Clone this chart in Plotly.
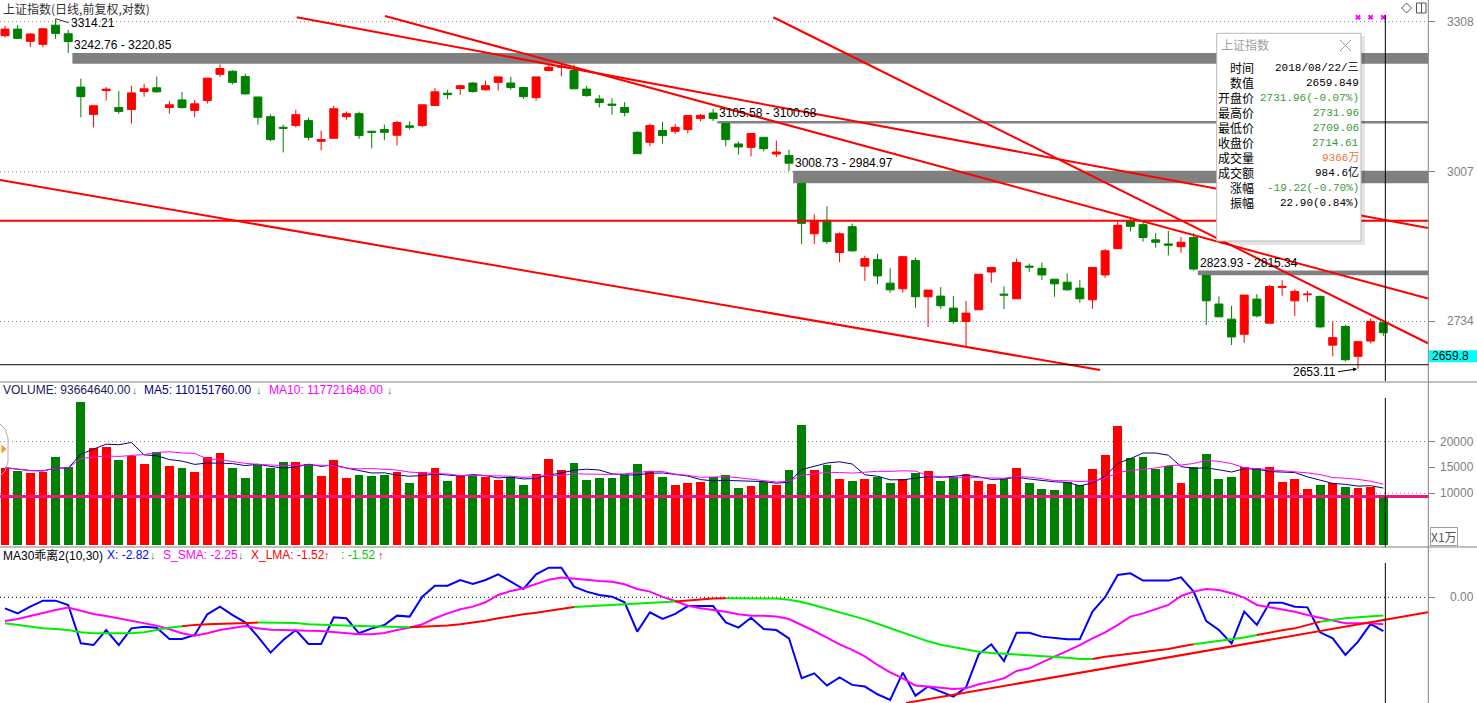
import math
import plotly.graph_objects as go

# ---------------- data ----------------
title_text = "上证指数(日线,前复权,对数)"

open_ = [3278.6, 3292.4, 3266.9, 3260.8, 3300.6, 3282.7, 3173.3, 3118.7, 3166.3, 3132.4,
         3128.5, 3164.3, 3171.9, 3132.4, 3147.5, 3126.6, 3146.2, 3199.2, 3205.4, 3194.5,
         3153.4, 3114.2, 3093.2, 3096.6, 3106.4, 3065.8, 3071.7, 3114.2, 3120.1, 3085.4,
         3088.7, 3077.6, 3096.0, 3096.6, 3136.4, 3161.0, 3170.5, 3181.5, 3167.8, 3182.8,
         3181.5, 3172.5, 3152.0, 3206.8, 3213.6, 3206.8, 3169.2, 3149.5, 3139.1, 3132.4,
         3083.4, 3063.8, 3086.8, 3085.4, 3088.7, 3110.3, 3121.4, 3100.68, 3060.7, 3054.0,
         3073.6, 3041.1, 3038.4, 2984.97, 2890.8, 2915.6, 2856.6, 2903.9, 2831.9, 2843.7,
         2801.4, 2791.4, 2842.0, 2777.3, 2778.5, 2757.4, 2734.0, 2754.4, 2821.3, 2782.0,
         2773.8, 2831.9, 2827.9, 2808.5, 2803.2, 2792.6, 2772.0, 2816.1, 2863.6, 2913.7,
         2907.6, 2879.6, 2872.2, 2867.1, 2883.9, 2815.34, 2764.5, 2738.1, 2711.9, 2773.2,
         2731.0, 2793.9, 2770.2, 2780.8, 2778.0, 2693.2, 2725.3, 2674.1, 2700.2, 2731.96]

high = [3299.2, 3301.2, 3284.2, 3294.5, 3314.21, 3291.0, 3190.4, 3135.8, 3173.3, 3165.7,
        3176.0, 3180.1, 3194.5, 3145.6, 3163.7, 3147.5, 3191.4, 3219.0, 3207.4, 3200.6,
        3153.4, 3118.7, 3098.5, 3127.9, 3112.2, 3086.8, 3135.8, 3124.6, 3124.0, 3086.8,
        3098.5, 3106.4, 3105.0, 3137.7, 3171.3, 3167.8, 3178.1, 3183.0, 3186.3, 3193.9,
        3193.9, 3173.3, 3193.9, 3219.1, 3220.85, 3219.1, 3176.0, 3157.5, 3150.9, 3143.0,
        3085.4, 3099.9, 3103.8, 3099.9, 3116.2, 3119.5, 3129.9, 3100.68, 3065.8, 3082.3,
        3073.6, 3067.1, 3049.5, 2984.97, 2926.8, 2941.7, 2893.2, 2909.5, 2850.8, 2854.3,
        2827.9, 2849.0, 2847.2, 2789.1, 2794.4, 2778.5, 2769.7, 2817.3, 2829.6, 2795.6,
        2845.5, 2836.7, 2838.4, 2808.5, 2819.0, 2807.3, 2829.6, 2863.1, 2913.7, 2918.8,
        2913.7, 2892.1, 2896.4, 2884.7, 2892.1, 2815.34, 2778.0, 2761.5, 2780.3, 2782.0,
        2797.9, 2806.7, 2790.8, 2787.8, 2779.1, 2734.0, 2728.1, 2699.2, 2739.3, 2731.96]

low = [3275.2, 3271.9, 3254.6, 3254.6, 3271.9, 3242.76, 3112.8, 3093.2, 3146.2, 3119.5,
       3100.5, 3154.0, 3162.2, 3120.1, 3129.9, 3112.8, 3140.3, 3193.9, 3178.7, 3158.1,
       3098.5, 3065.8, 3044.2, 3093.2, 3067.7, 3048.2, 3071.7, 3108.3, 3070.5, 3052.1,
       3067.7, 3058.0, 3088.7, 3093.2, 3136.4, 3148.9, 3157.5, 3162.0, 3166.3, 3166.3,
       3167.8, 3149.5, 3146.2, 3205.4, 3195.1, 3169.8, 3154.0, 3132.4, 3118.1, 3114.8,
       3041.7, 3056.0, 3061.3, 3080.3, 3080.9, 3105.0, 3105.58, 3056.0, 3039.7, 3036.4,
       3046.2, 3035.2, 3008.73, 2872.2, 2872.2, 2872.2, 2839.0, 2857.8, 2805.5, 2799.7,
       2784.4, 2784.4, 2758.0, 2724.6, 2756.2, 2729.8, 2691.5, 2754.4, 2802.0, 2755.6,
       2773.8, 2821.4, 2807.3, 2777.3, 2787.8, 2766.8, 2756.2, 2810.8, 2863.6, 2895.1,
       2876.4, 2865.4, 2851.3, 2856.0, 2823.93, 2728.1, 2742.1, 2693.2, 2697.4, 2741.0,
       2731.0, 2779.1, 2743.8, 2768.5, 2722.3, 2674.1, 2665.4, 2653.11, 2696.2, 2709.06]

close = [3292.4, 3273.1, 3282.1, 3293.0, 3283.4, 3266.3, 3154.0, 3135.8, 3169.2, 3124.6,
         3161.6, 3169.8, 3163.7, 3137.7, 3132.4, 3139.7, 3191.4, 3210.9, 3182.8, 3159.6,
         3112.8, 3069.1, 3091.3, 3118.1, 3073.6, 3069.1, 3129.9, 3120.1, 3077.0, 3083.4,
         3083.4, 3102.5, 3093.2, 3137.7, 3163.7, 3158.1, 3176.0, 3164.3, 3176.0, 3193.9,
         3172.5, 3154.0, 3193.9, 3213.6, 3215.6, 3169.8, 3156.1, 3142.2, 3137.1, 3122.6,
         3041.7, 3096.6, 3077.0, 3093.2, 3116.2, 3116.8, 3110.3, 3069.1, 3054.8, 3080.9,
         3051.5, 3045.0, 3023.5, 2910.0, 2915.6, 2876.4, 2890.8, 2859.6, 2845.5, 2814.3,
         2789.6, 2849.0, 2777.3, 2789.1, 2761.5, 2734.0, 2748.6, 2817.3, 2829.6, 2780.3,
         2838.4, 2830.2, 2816.1, 2800.2, 2789.6, 2773.8, 2829.6, 2859.6, 2906.3, 2904.4,
         2883.9, 2875.3, 2869.8, 2875.3, 2826.6, 2770.2, 2742.1, 2707.2, 2780.3, 2743.8,
         2795.6, 2795.6, 2786.8, 2782.0, 2724.6, 2706.1, 2668.3, 2699.2, 2733.83, 2714.61]

# volume in units of 万 (x10000)
volume = [14950, 14312, 13925, 14118, 17019, 15085, 27656, 18818, 18953, 16439,
          17270, 15665, 17986, 15279, 14892, 14118, 17019, 17793, 14892, 12958,
          15472, 14892, 16052, 16052, 15665, 13345, 16439, 12958, 13538, 13345,
          13538, 14118, 11991, 14118, 14892, 12378, 13345, 13345, 13209, 12571,
          13151, 11604, 13731, 16632, 14505, 15859, 12571, 12958, 12958, 13538,
          15665, 14312, 13151, 11604, 11991, 12184, 13151, 13538, 11024, 11411,
          12184, 11604, 14505, 23208, 14505, 15472, 12764, 12378, 12764, 13151,
          11991, 12764, 13925, 14312, 12378, 13151, 13731, 12378, 11797, 12764,
          14892, 11991, 10830, 10637, 12184, 11604, 14698, 17406, 23015, 16826,
          17019, 14698, 15279, 11991, 15085, 17599, 12764, 13151, 15085, 14892,
          15100, 12200, 12800, 10900, 11646, 12000, 11300, 11100, 11310, 9366.464]

# MA30乖离2 indicator
x_dev = [-0.92, -1.34, -0.78, -0.28, -0.28, -0.64, -3.84, -3.98, -2.73, -3.98,
         -2.59, -2.45, -2.53, -3.48, -3.48, -3.14, -1.42, -0.78, -1.48, -2.09,
         -3.28, -4.61, -3.56, -2.73, -3.89, -3.89, -1.66, -1.75, -3.00, -2.59,
         -2.31, -1.53, -1.61, 0.05, 0.97, 0.97, 1.44, 1.11, 1.44, 1.91,
         1.30, 0.69, 1.91, 2.47, 2.47, 0.89, 0.47, 0.19, 0.05, -0.42,
         -2.86, -1.25, -1.81, -1.39, -0.73, -0.73, -0.73, -2.09, -2.53, -1.70,
         -2.64, -2.73, -3.42, -6.75, -6.34, -7.36, -6.67, -7.30, -7.44, -8.08,
         -8.56, -6.28, -8.20, -7.44, -7.86, -8.28, -7.50, -4.75, -3.92, -5.31,
         -2.95, -2.95, -3.28, -3.42, -3.50, -3.50, -1.19, 0.00, 1.86, 2.00,
         1.39, 1.39, 1.39, 1.66, 0.47, -1.98, -2.73, -3.84, -1.20, -2.30,
         -0.45, -0.45, -0.78, -0.84, -2.92, -3.42, -4.80, -3.70, -2.22, -2.82]

s_sma = [-1.98, -1.81, -1.56, -1.28, -1.06, -0.86, -1.14, -1.39, -1.56, -1.75,
         -1.98, -2.17, -2.36, -2.67, -3.00, -3.20, -3.00, -2.73, -2.53, -2.39,
         -2.59, -2.70, -2.73, -2.73, -2.78, -2.81, -2.89, -2.95, -3.09, -3.09,
         -2.98, -2.73, -2.53, -2.25, -1.75, -1.34, -1.00, -0.78, -0.42, 0.19,
         0.53, 0.75, 1.08, 1.47, 1.64, 1.58, 1.47, 1.36, 1.30, 1.08,
         0.69, 0.47, 0.03, -0.31, -0.70, -0.92, -1.06, -1.20, -1.42, -1.53,
         -1.53, -1.61, -1.81, -2.30, -2.81, -3.36, -3.92, -4.39, -4.92, -5.64,
         -6.25, -6.75, -7.36, -7.44, -7.53, -7.64, -7.59, -7.25, -7.03, -6.75,
         -6.14, -5.92, -5.42, -4.95, -4.47, -3.98, -3.42, -2.92, -2.30, -1.61,
         -1.34, -1.00, -0.64, 0.11, 0.47, 0.69, 0.61, 0.33, -0.03, -0.64,
         -0.84, -0.98, -1.20, -1.48, -1.70, -1.98, -2.17, -2.17, -2.17, -2.25]

x_lma = [-2.17, -2.30, -2.45, -2.59, -2.64, -2.73, -2.92, -3.00, -3.00, -3.00,
         -3.00, -2.92, -2.73, -2.53, -2.42, -2.30, -2.25, -2.22, -2.17, -2.11,
         -2.11, -2.11, -2.11, -2.14, -2.25, -2.30, -2.30, -2.34, -2.39, -2.42,
         -2.45, -2.47, -2.50, -2.47, -2.42, -2.36, -2.25, -2.11, -1.95, -1.75,
         -1.56, -1.42, -1.28, -1.14, -0.98, -0.81, -0.75, -0.70, -0.64, -0.59,
         -0.53, -0.48, -0.42, -0.36, -0.28, -0.17, -0.11, -0.09, -0.09, -0.09,
         -0.09, -0.11, -0.20, -0.39, -0.67, -0.95, -1.25, -1.56, -1.84, -2.20,
         -2.57, -2.93, -3.31, -3.67, -3.95, -4.14, -4.36, -4.53, -4.64, -4.70,
         -4.75, -4.81, -4.89, -4.95, -5.03, -5.14, -5.14, -4.95, -4.84, -4.70,
         -4.59, -4.48, -4.31, -4.11, -3.92, -3.78, -3.70, -3.53, -3.36, -3.14,
         -2.92, -2.75, -2.59, -2.30, -2.03, -1.86, -1.75, -1.67, -1.61, -1.52]

# colour state of each LMA segment (run lengths): G = falling colour, R = rising colour
lma_color_runs = [("G", 14), ("R", 6), ("G", 12), ("R", 13), ("G", 8), ("R", 4),
                  ("G", 29), ("R", 8), ("G", 5), ("R", 5), ("G", 5)]

price_ticks = [3308, 3007, 2734]
volume_ticks = [20000, 15000, 10000]
volume_grid = [20000, 10000]
ind_ticks = [0.0]

# unfilled gaps: (index of the candle before the gap, upper edge, lower edge)
gaps = [(5, 3242.76, 3220.85), (56, 3105.58, 3100.68), (62, 3008.73, 2984.97), (94, 2823.93, 2815.34)]

# user-drawn trend lines (index, price) -> (index, price)
price_trend_lines = [
    (-0.4, 2914.9, 112.6, 2914.9),
    (-0.4, 2991.3, 86.6, 2650.9),
    (23.07, 3317.3, 112.53, 2901.4),
    (30.05, 3320.0, 112.53, 2774.2),
    (60.76, 3317.3, 112.53, 2696.4),
]
ind_trend_lines = [(71.25, -8.81, 112.53, -1.25)]

marked_idx = [107, 108, 109]
cursor_date = "2018/08/22/三"
cursor_value = 2659.849
amount_yi = 984.6
vol_header = ["VOLUME: 93664640.00", "MA5: 110151760.00", "MA10: 117721648.00"]
ind_header = ["MA30乖离2(10,30)", "X: -2.82", "S_SMA: -2.25", "X_LMA: -1.52", ": -1.52"]

# ---------------- layout helpers ----------------
W, H = 1477, 703
PLOT_RIGHT = 1428.3
X0_PX, DX_PX = 5.0, 12.645
n = len(close)
idx = list(range(n))


def px_to_ix(p):
    return (p - X0_PX) / DX_PX


XR = [px_to_ix(0), px_to_ix(PLOT_RIGHT)]
XDOM = [0, PLOT_RIGHT / W]


def fx(p):
    return p / W


def fy(p):
    return 1 - p / H


PRICE_BOT = 381.0
VOL_TOP, VOL_BOT = 382.0, 546.7
IND_TOP = 547.0
PRICE_LOG = [math.log10(2632.5), math.log10(3353.9)]
SPAN = PRICE_LOG[1] - PRICE_LOG[0]
VOL_RANGE = [-329, 31524]
IND_RANGE = [-8.81, 4.19]


def price_at_px(py):
    return 10 ** (PRICE_LOG[1] - py / PRICE_BOT * SPAN)


def px_of_price(p):
    return (PRICE_LOG[1] - math.log10(p)) / SPAN * PRICE_BOT


def py_price(p):
    """paper y of a price on the (log) price axis"""
    return fy(px_of_price(p))


UP, DOWN = "#FF0000", "#008000"
LAT = "Liberation Sans, Arial, DejaVu Sans, Noto Sans CJK SC"
CJK = "Noto Sans CJK SC, Liberation Sans"
MONO = "Liberation Mono, DejaVu Sans Mono, Noto Sans CJK SC"
GRAY = "#808080"

fig = go.Figure()

# ---------------- price panel ----------------
fig.add_trace(go.Candlestick(
    x=idx, open=open_, high=high, low=low, close=close,
    increasing=dict(line=dict(color=UP, width=1), fillcolor=UP),
    decreasing=dict(line=dict(color=DOWN, width=1), fillcolor=DOWN),
    whiskerwidth=0, xaxis="x", yaxis="y", hoverinfo="skip", showlegend=False))

for (xa, ya, xb, yb) in price_trend_lines:
    fig.add_trace(go.Scatter(x=[xa, xb], y=[ya, yb], mode="lines",
                             line=dict(color="#FF0000", width=2),
                             xaxis="x", yaxis="y", hoverinfo="skip", showlegend=False))

fig.add_trace(go.Scatter(x=marked_idx, y=[price_at_px(17.3)] * len(marked_idx), mode="markers",
                         marker=dict(symbol="x", size=5, color="#FF00FF", line=dict(width=0)),
                         xaxis="x", yaxis="y", hoverinfo="skip", showlegend=False))

# ---------------- volume panel ----------------
vol_colors = [UP if c >= o else DOWN for o, c in zip(open_, close)]
fig.add_trace(go.Bar(x=idx, y=volume, width=0.7, marker=dict(color=vol_colors, line=dict(width=0)),
                     xaxis="x2", yaxis="y2", hoverinfo="skip", showlegend=False))


def rolling_mean(vals, k):
    out = []
    for i in range(len(vals)):
        w = vals[max(0, i - k + 1): i + 1]
        out.append(sum(w) / len(w))
    return out


fig.add_trace(go.Scatter(x=idx, y=rolling_mean(volume, 5), mode="lines",
                         line=dict(color="#000080", width=1),
                         xaxis="x2", yaxis="y2", hoverinfo="skip", showlegend=False))
fig.add_trace(go.Scatter(x=idx, y=rolling_mean(volume, 10), mode="lines",
                         line=dict(color="#FF00FF", width=1),
                         xaxis="x2", yaxis="y2", hoverinfo="skip", showlegend=False))

# ---------------- indicator panel ----------------
fig.add_trace(go.Scatter(x=idx, y=x_dev, mode="lines", line=dict(color="#0000FF", width=2),
                         xaxis="x3", yaxis="y3", hoverinfo="skip", showlegend=False))
fig.add_trace(go.Scatter(x=idx, y=s_sma, mode="lines", line=dict(color="#FF00FF", width=2),
                         xaxis="x3", yaxis="y3", hoverinfo="skip", showlegend=False))


def lma_segments(key):
    xs, ys, start = [], [], 0
    for k, length in lma_color_runs:
        if k == key:
            xs += list(range(start, start + length + 1)) + [None]
            ys += x_lma[start:start + length + 1] + [None]
        start += length
    return xs, ys


for key, col in (("G", "#00EE00"), ("R", "#FF0000")):
    sx, sy = lma_segments(key)
    fig.add_trace(go.Scatter(x=sx, y=sy, mode="lines", line=dict(color=col, width=2),
                             connectgaps=False, xaxis="x3", yaxis="y3",
                             hoverinfo="skip", showlegend=False))

for (xa, ya, xb, yb) in ind_trend_lines:
    fig.add_trace(go.Scatter(x=[xa, xb], y=[ya, yb], mode="lines",
                             line=dict(color="#FF0000", width=2),
                             xaxis="x3", yaxis="y3", hoverinfo="skip", showlegend=False))

# ---------------- shapes ----------------
shapes = []
DOT = "1px,3px"

for v in price_ticks:
    shapes.append(dict(type="line", xref="paper", yref="paper", x0=0, x1=XDOM[1],
                       y0=py_price(v), y1=py_price(v),
                       line=dict(color=GRAY, width=1, dash=DOT), layer="below"))
for v in volume_grid:
    shapes.append(dict(type="line", xref="paper", yref="y2", x0=0, x1=XDOM[1], y0=v, y1=v,
                       line=dict(color=GRAY, width=1, dash=DOT), layer="below"))
for v in ind_ticks:
    shapes.append(dict(type="line", xref="paper", yref="y3", x0=0, x1=XDOM[1], y0=v, y1=v,
                       line=dict(color="#000000", width=1, dash=DOT), layer="below"))

# gap bands
for k, hi, lo in gaps:
    shapes.append(dict(type="rect", xref="x", yref="paper", x0=k + 0.33, x1=XR[1],
                       y0=py_price(lo), y1=py_price(hi),
                       fillcolor=GRAY, line=dict(width=0), layer="below"))

# panel borders
for yy in (VOL_TOP, IND_TOP):
    shapes.append(dict(type="line", xref="paper", yref="paper", x0=0, x1=1, y0=fy(yy), y1=fy(yy),
                       line=dict(color=GRAY, width=1)))
shapes.append(dict(type="line", xref="paper", yref="paper", x0=XDOM[1], x1=XDOM[1], y0=0, y1=1,
                   line=dict(color=GRAY, width=1)))

# current volume level line
shapes.append(dict(type="line", xref="paper", yref="y2", x0=0, x1=XDOM[1],
                   y0=volume[-1], y1=volume[-1], line=dict(color="#F0147F", width=3)))

# crosshair
cx = n - 1 + 0.16
for (ya, yb) in ((15, PRICE_BOT), (398, VOL_BOT), (563, H)):
    shapes.append(dict(type="line", xref="x", yref="paper", x0=cx, x1=cx, y0=fy(ya), y1=fy(yb),
                       line=dict(color="#000000", width=1)))
shapes.append(dict(type="line", xref="paper", yref="paper", x0=0, x1=XDOM[1],
                   y0=py_price(cursor_value), y1=py_price(cursor_value),
                   line=dict(color="#000000", width=1)))
ly = px_of_price(cursor_value)
shapes.append(dict(type="rect", xref="paper", yref="paper", x0=fx(1429), x1=1,
                   y0=fy(ly - 2.5), y1=fy(ly - 14.5), fillcolor="#00FFFF", line=dict(width=0)))

# tooltip box
shapes.append(dict(type="rect", xref="paper", yref="paper", x0=fx(1219.5), x1=fx(1365),
                   y0=fy(245), y1=fy(36), fillcolor="rgba(0,0,0,0.10)", line=dict(width=0)))
shapes.append(dict(type="rect", xref="paper", yref="paper", x0=fx(1216.7), x1=fx(1361),
                   y0=fy(241), y1=fy(33.3), fillcolor="#FFFFFF", line=dict(color="#B8B8B8", width=1)))
for (xa, ya, xb, yb) in ((1340, 40, 1351, 51), (1340, 51, 1351, 40)):
    shapes.append(dict(type="line", xref="paper", yref="paper", x0=fx(xa), x1=fx(xb),
                       y0=fy(ya), y1=fy(yb), line=dict(color="#999999", width=1)))

# top-right icons
shapes.append(dict(type="path", xref="paper", yref="paper",
                   path=f"M{fx(1406.5)},{fy(3)} L{fx(1411.5)},{fy(8)} L{fx(1406.5)},{fy(13)} L{fx(1401.5)},{fy(8)} Z",
                   line=dict(color="#555555", width=1)))
shapes.append(dict(type="rect", xref="paper", yref="paper", x0=fx(1416.5), x1=fx(1426),
                   y0=fy(13), y1=fy(3), line=dict(color="#555555", width=1)))
shapes.append(dict(type="line", xref="paper", yref="paper", x0=fx(1421.5), x1=fx(1421.5),
                   y0=fy(13), y1=fy(3), line=dict(color="#555555", width=1)))

# left handle on the volume panel
shapes.append(dict(type="path", xref="paper", yref="paper",
                   path=f"M{fx(0)},{fy(424)} L{fx(5)},{fy(429)} L{fx(8)},{fy(438)} L{fx(8)},{fy(462)} "
                        f"L{fx(5)},{fy(471)} L{fx(0)},{fy(476)}",
                   line=dict(color="#B0B0B0", width=1)))
shapes.append(dict(type="path", xref="paper", yref="paper",
                   path=f"M{fx(1.5)},{fy(444.5)} L{fx(6.5)},{fy(449)} L{fx(1.5)},{fy(453.5)} Z",
                   fillcolor="#F0A020", line=dict(width=0)))

# ---------------- annotations ----------------
anns = []


def ann(text, x, y, color="#000000", size=12, family=LAT, xanchor="left", yanchor="middle", **kw):
    d = dict(text=text, x=fx(x), y=fy(y), xref="paper", yref="paper", showarrow=False,
             xanchor=xanchor, yanchor=yanchor, font=dict(color=color, size=size, family=family))
    d.update(kw)
    anns.append(d)


# axis labels (right aligned at the window edge)
for v in price_ticks:
    anns.append(dict(text=f"{v}", x=1476 / W, xref="paper", y=py_price(v), yref="paper",
                     showarrow=False, xanchor="right", yanchor="middle",
                     font=dict(color=GRAY, size=12, family=LAT)))
for v in volume_ticks:
    anns.append(dict(text=f"{v}", x=1476 / W, xref="paper", y=v, yref="y2",
                     showarrow=False, xanchor="right", yanchor="middle",
                     font=dict(color=GRAY, size=12, family=LAT)))
for v in ind_ticks:
    anns.append(dict(text=f"{v:.2f}", x=1476 / W, xref="paper", y=v, yref="y3",
                     showarrow=False, xanchor="right", yanchor="middle",
                     font=dict(color=GRAY, size=12, family=LAT)))
ann("X1万", 1430, 546, color="#555555", size=12, family=CJK, yanchor="bottom",
    bordercolor="#A0A0A0", borderwidth=1, borderpad=0, bgcolor="#FFFFFF")
ann(f"{cursor_value:.1f}", 1429.5, ly - 8.5, color="#000000", size=12)

# title and headers
ann(title_text, 1, 8.5, color="#333333", size=12, family=CJK)
DN, UPA = "#2E8B57", "#FF0000"
ann(vol_header[0], 0.5, 390, color="#202060")
ann("↓", 130, 390, color=DN, size=11)
ann(vol_header[1], 142, 390, color="#000080")
ann("↓", 254, 390, color=DN, size=11)
ann(vol_header[2], 266.5, 390, color="#FF00FF")
ann("↓", 385, 390, color=DN, size=11)

ann(ind_header[0], 0.5, 555, color="#000000", family=LAT)
ann(ind_header[1], 104.5, 555, color="#0000FF")
ann("↓", 148, 555, color=DN, size=11)
ann(ind_header[2], 160.5, 555, color="#FF00FF")
ann("↓", 236, 555, color=DN, size=11)
ann(ind_header[3], 249, 555, color="#FF0000")
ann("↑", 322, 555, color=UPA, size=11)
ann(ind_header[4], 339, 555, color="#00CC00")
ann("↑", 376, 555, color=UPA, size=11)

# gap labels
for k, hi, lo in gaps:
    anns.append(dict(text=f"{hi:.2f} - {lo:.2f}", x=k + 0.33, xref="x", y=py_price(hi), yref="paper",
                     showarrow=False, xanchor="left", yanchor="middle", yshift=8,
                     font=dict(color="#000000", size=12, family=LAT)))

# extreme marks
hi_i = max(range(n), key=lambda i: high[i])
lo_i = min(range(n), key=lambda i: low[i])
anns.append(dict(text=f"{high[hi_i]:.2f}", x=hi_i, xref="x", y=py_price(high[hi_i]), yref="paper",
                 showarrow=True, arrowhead=0, arrowwidth=1, arrowcolor="#333333",
                 ax=13, ay=4, xanchor="left", yanchor="middle",
                 font=dict(color="#000000", size=12, family=LAT)))
anns.append(dict(text=f"{low[lo_i]:.2f}", x=lo_i, xref="x", y=py_price(low[lo_i]), yref="paper",
                 showarrow=True, arrowhead=2, arrowsize=0.8, arrowwidth=1, arrowcolor="#000000",
                 ax=-20, ay=3, xanchor="right", yanchor="middle", standoff=1,
                 font=dict(color="#000000", size=12, family=LAT)))

# tooltip contents
o, h, l, c = open_[-1], high[-1], low[-1], close[-1]
pc = close[-2]
TG, ORG = "#3A9A3A", "#E8743B"
rows = [
    ("时间", cursor_date, "#000000"),
    ("数值", f"{cursor_value:.3f}", "#000000"),
    ("开盘价", f"{o:.2f}({(o / pc - 1) * 100:.2f}%)", TG),
    ("最高价", f"{h:.2f}", TG),
    ("最低价", f"{l:.2f}", TG),
    ("收盘价", f"{c:.2f}", TG),
    ("成交量", f"{volume[-1]:.0f}万", ORG),
    ("成交额", f"{amount_yi:.1f}亿", "#000000"),
    ("涨幅", f"{c - pc:.2f}({(c / pc - 1) * 100:.2f}%)", TG),
    ("振幅", f"{h - l:.2f}({(h - l) / pc * 100:.2f}%)", "#000000"),
]
ann("上证指数", 1219, 45, color="#A0A0A0", size=12, family=CJK)
for r, (lab, val, col) in enumerate(rows):
    yy = 67.7 + 15 * r
    ann(lab, 1256, yy, color="#000000", size=12, family=CJK, xanchor="right")
    ann(val, 1361, yy, color=col, size=11, family=MONO, xanchor="right")

# ---------------- axes / layout ----------------
xcommon = dict(range=XR, domain=XDOM, showgrid=False, zeroline=False, showticklabels=False,
               ticks="", showline=False, fixedrange=True)
ycommon = dict(side="right", ticks="outside", ticklen=6, tickcolor=GRAY, tickwidth=1,
               showticklabels=False, showgrid=False, zeroline=False, showline=False)

fig.update_layout(
    width=W, height=H, autosize=False,
    margin=dict(l=0, r=0, t=0, b=0, pad=0),
    paper_bgcolor="#FFFFFF", plot_bgcolor="#FFFFFF",
    showlegend=False, boxgap=0.37, boxgroupgap=0, bargap=0,
    xaxis=dict(anchor="y", rangeslider=dict(visible=False), **xcommon),
    xaxis2=dict(anchor="y2", **xcommon),
    xaxis3=dict(anchor="y3", **xcommon),
    yaxis=dict(type="log", range=PRICE_LOG, domain=[fy(PRICE_BOT), 1], anchor="x",
               tickvals=price_ticks, **ycommon),
    yaxis2=dict(range=VOL_RANGE, domain=[fy(VOL_BOT), fy(VOL_TOP)], anchor="x2",
                tickvals=volume_ticks, **ycommon),
    yaxis3=dict(range=IND_RANGE, domain=[0, fy(IND_TOP)], anchor="x3",
                tickvals=ind_ticks, **ycommon),
    shapes=shapes, annotations=anns,
)

fig.write_html("out.html", config={"displayModeBar": False})
